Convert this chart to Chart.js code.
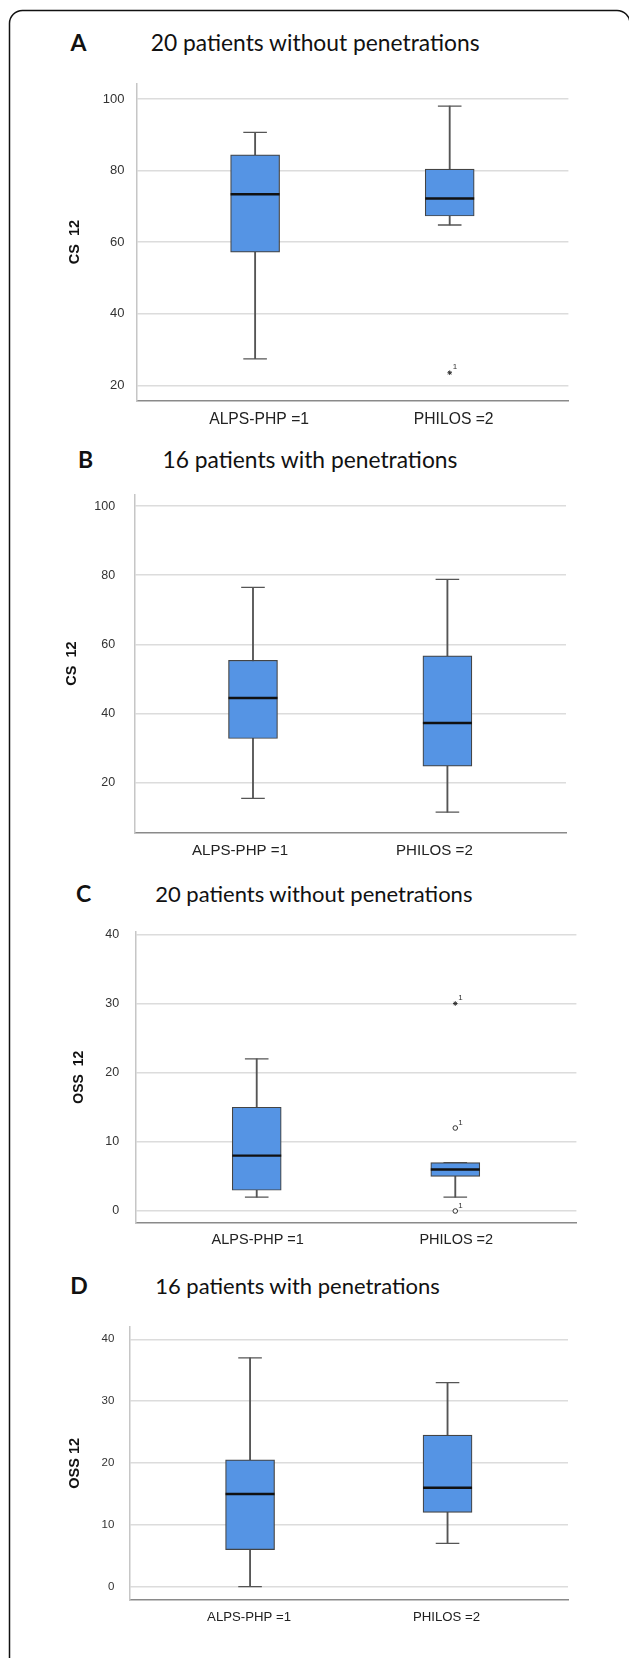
<!DOCTYPE html>
<html lang="en">
  <head>
    <meta charset="UTF-8" />
    <meta name="viewport" content="width=device-width, initial-scale=1.0" />
    <title>CS 12 / OSS 12 boxplots</title>
    <script src="https://cdn.jsdelivr.net/npm/chart.js"></script>
    <style>
      body { margin: 0; background: #fff; }
      .page { position: relative; width: 629px; height: 1658px; overflow: hidden; }
      .page svg { position: absolute; left: 0; top: 0; }
      .panel { position: absolute; left: 0; width: 629px; }
    </style>
  </head>
  <body>
    <div class="page">
      <svg width="629" height="1658">
        <path d="M9.5 1700 V23.5 A13 13 0 0 1 22.5 10.5 H617 A13 13 0 0 1 630 23.5"
          fill="none" stroke="#111" stroke-width="1.5" />
        <g font-family="Lato, 'Open Sans', sans-serif" fill="#111">
          <text x="70.5" y="50.6" font-size="23" font-weight="bold">A</text>
          <text x="150.8" y="50.5" font-size="22.8">20 patients without penetrations</text>
          <text x="78" y="467.8" font-size="23" font-weight="bold">B</text>
          <text x="162.5" y="467.8" font-size="22.8">16 patients with penetrations</text>
          <text x="76" y="901.7" font-size="23" font-weight="bold">C</text>
          <text x="155.2" y="901.7" font-size="22">20 patients without penetrations</text>
          <text x="70.2" y="1294" font-size="23" font-weight="bold">D</text>
          <text x="155.2" y="1294" font-size="22">16 patients with penetrations</text>
        </g>
      </svg>
      <div class="panel" style="top: 70px; height: 380px"><canvas id="chartA"></canvas></div>
      <div class="panel" style="top: 480px; height: 400px"><canvas id="chartB"></canvas></div>
      <div class="panel" style="top: 915px; height: 360px"><canvas id="chartC"></canvas></div>
      <div class="panel" style="top: 1310px; height: 340px"><canvas id="chartD"></canvas></div>
    </div>

    <script>
      // groups (x = 1, 2)
      const groups = ["ALPS-PHP =1", "PHILOS =2"];
      const groupPos = [1, 2];
      const csTicks = [20, 40, 60, 80, 100];
      const ossTicks = [0, 10, 20, 30, 40];

      // A: CS 12, 20 patients without penetrations
      const aMin = [27.4, 64.8];
      const aQ1 = [57.2, 67.3];
      const aMed = [73.4, 72.2];
      const aQ3 = [84.4, 80.4];
      const aMax = [90.7, 98.0];
      const aOutVal = [23.5];
      const aOutGroup = [2];
      const aOutStyle = ["star"];
      const aOutTag = ["1"];

      // B: CS 12, 16 patients with penetrations
      const bMin = [15.5, 11.5];
      const bQ1 = [32.8, 24.8];
      const bMed = [44.5, 37.3];
      const bQ3 = [55.4, 56.7];
      const bMax = [76.5, 78.8];

      // C: OSS 12, 20 patients without penetrations
      const cMin = [2, 2];
      const cQ1 = [3, 5];
      const cMed = [8, 6];
      const cQ3 = [15, 7];
      const cMax = [22, 7];
      const cOutVal = [30, 12, 0];
      const cOutGroup = [2, 2, 2];
      const cOutStyle = ["star", "circle", "circle"];
      const cOutTag = ["1", "1", "1"];

      // D: OSS 12, 16 patients with penetrations
      const dMin = [0, 7];
      const dQ1 = [6, 12];
      const dMed = [15, 16];
      const dQ3 = [20.5, 24.5];
      const dMax = [37, 33];

      Chart.defaults.font.family = "'Liberation Sans', Arial, sans-serif";
      Chart.defaults.color = "#222";

      // writes the case number next to each outlier
      const outlierTags = {
        id: "outlierTags",
        afterDatasetsDraw(chart) {
          const i = chart.data.datasets.findIndex((d) => d.label === "outliers");
          const tags = chart.data.datasets[i].tags;
          const ctx = chart.ctx;
          ctx.save();
          ctx.font = "8px 'Liberation Sans', Arial";
          ctx.fillStyle = "#333";
          chart.getDatasetMeta(i).data.forEach((pt, k) => {
            ctx.fillText(tags[k], pt.x + 3, pt.y - 3.5);
          });
          ctx.restore();
        },
      };

      function boxChart(id, box, out, look) {
        const at = (arr) => groupPos.map((x, i) => ({ x: x, y: arr[i] }));

        new Chart(document.getElementById(id), {
          type: "bar",
          data: {
            datasets: [
              {
                label: "outliers",
                type: "line",
                data: out.val.map((v, i) => ({ x: out.group[i], y: v })),
                tags: out.tag,
                showLine: false,
                pointStyle: out.style,
                pointRadius: 2.3,
                pointBorderWidth: 1,
                pointBorderColor: "#333",
                pointBackgroundColor: "#fff",
                order: 0,
              },
              {
                label: "median",
                type: "line",
                data: at(box.med),
                showLine: false,
                pointStyle: "line",
                pointRadius: 24.5,
                pointBorderWidth: 2.4,
                pointBorderColor: "#111",
                order: 1,
              },
              {
                label: "box",
                data: groupPos.map((x, i) => ({ x: x, y: [box.q1[i], box.q3[i]] })),
                backgroundColor: "#5594e4",
                borderColor: "#444",
                borderWidth: 1.2,
                borderSkipped: false,
                barThickness: 49,
                grouped: false,
                order: 2,
              },
              {
                label: "caps",
                type: "line",
                data: at(box.min).concat(at(box.max)),
                showLine: false,
                pointStyle: "line",
                pointRadius: 11.8,
                pointBorderWidth: 1.3,
                pointBorderColor: "#555",
                order: 3,
              },
              {
                label: "whisker",
                data: groupPos.map((x, i) => ({ x: x, y: [box.min[i], box.max[i]] })),
                backgroundColor: "#555",
                barThickness: 1.2,
                grouped: false,
                order: 4,
              },
            ],
          },
          options: {
            responsive: true,
            maintainAspectRatio: false,
            animation: false,
            events: [],
            // the wide median markers would otherwise push the plot down
            layout: { padding: look.pad, autoPadding: false },
            plugins: { legend: { display: false }, tooltip: { enabled: false } },
            scales: {
              x: {
                type: "linear",
                min: 0.39,
                max: 2.61,
                offset: false,
                grid: { display: false, drawTicks: false },
                border: { color: "#8a8a8a", width: 1.5 },
                afterBuildTicks: (s) => (s.ticks = groupPos.map((v) => ({ value: v }))),
                afterFit: (s) => (s.height = 40),
                ticks: {
                  callback: (v) => groups[groupPos.indexOf(v)],
                  font: { size: look.labelSize },
                  color: "#222",
                  padding: look.labelPad,
                  labelOffset: look.labelShift,
                  maxRotation: 0,
                },
              },
              y: {
                type: "linear",
                min: look.yMin,
                max: look.yMax,
                bounds: "data",
                grid: { color: "#dcdcdc", lineWidth: 1.5, drawTicks: false },
                border: { color: "#c6c6c6", width: 1.5 },
                afterBuildTicks: (s) => (s.ticks = look.ticks.map((v) => ({ value: v }))),
                afterFit: (s) => {
                  s.width = look.yWidth;
                  s.paddingTop = 0;
                  s.paddingBottom = 0;
                },
                ticks: { font: { size: look.tickSize }, color: "#333", padding: look.tickPad },
                title: {
                  display: true,
                  text: look.title,
                  font: { size: look.titleSize, weight: "bold" },
                  color: "#111",
                  padding: { top: look.titlePad, bottom: 0 },
                },
              },
            },
          },
          plugins: [outlierTags],
        });
      }

      boxChart(
        "chartA",
        { min: aMin, q1: aQ1, med: aMed, q3: aQ3, max: aMax },
        { val: aOutVal, group: aOutGroup, style: aOutStyle, tag: aOutTag },
        {
          pad: { top: 13.3, bottom: 9, left: 0, right: 60.6 },
          yWidth: 136.4, yMin: 15.6, yMax: 104.4, ticks: csTicks,
          tickSize: 13, tickPad: 12, labelSize: 15.7, labelPad: 8.9, labelShift: 4,
          title: "CS  12", titleSize: 14.5, titlePad: 66.1,
        }
      );

      boxChart(
        "chartB",
        { min: bMin, q1: bQ1, med: bMed, q3: bQ3, max: bMax },
        { val: [], group: [], style: [], tag: [] },
        {
          pad: { top: 14.3, bottom: 7.3, left: 0, right: 63 },
          yWidth: 134.4, yMin: 5.57, yMax: 103.4, ticks: csTicks,
          tickSize: 12.5, tickPad: 19.3, labelSize: 15.1, labelPad: 8.9, labelShift: -13,
          title: "CS  12", titleSize: 14.5, titlePad: 63.1,
        }
      );

      boxChart(
        "chartC",
        { min: cMin, q1: cQ1, med: cMed, q3: cQ3, max: cMax },
        { val: cOutVal, group: cOutGroup, style: cOutStyle, tag: cOutTag },
        {
          pad: { top: 16.7, bottom: 12.3, left: 0, right: 52.6 },
          yWidth: 135.6, yMin: -1.69, yMax: 40.38, ticks: ossTicks,
          tickSize: 12.5, tickPad: 16.5, labelSize: 14.5, labelPad: 8.6, labelShift: 1,
          title: "OSS  12", titleSize: 14, titlePad: 70.6,
        }
      );

      boxChart(
        "chartD",
        { min: dMin, q1: dQ1, med: dMed, q3: dQ3, max: dMax },
        { val: [], group: [], style: [], tag: [] },
        {
          pad: { top: 16.7, bottom: 10, left: 0, right: 61 },
          yWidth: 129.6, yMin: -2.15, yMax: 42.04, ticks: ossTicks,
          tickSize: 11.5, tickPad: 15.3, labelSize: 13.2, labelPad: 9.4, labelShift: -1,
          title: "OSS 12", titleSize: 14.5, titlePad: 66.3,
        }
      );
    </script>
  </body>
</html>
